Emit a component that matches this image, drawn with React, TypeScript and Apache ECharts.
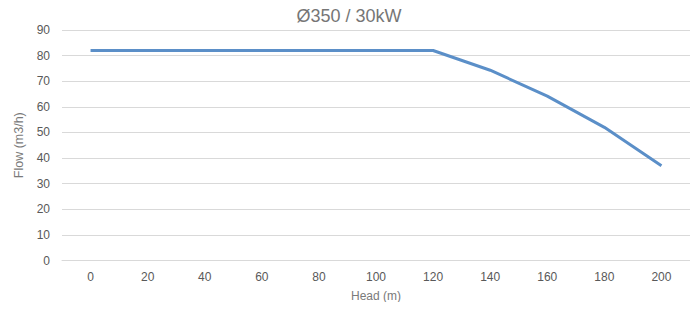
import React, { useEffect, useRef } from "react";
import * as echarts from "echarts";

const title = "Ø350 / 30kW";
const headCategories = ["0", "20", "40", "60", "80", "100", "120", "140", "160", "180", "200"];
const flowValues = [82, 82, 82, 82, 82, 82, 82, 74.3, 64.2, 52, 37];
const xName = "Head (m)";
const yName = "Flow (m3/h)";

export default function App() {
  const ref = useRef<HTMLDivElement>(null);
  useEffect(() => {
    if (!ref.current) return;
    const chart = echarts.init(ref.current, undefined, { renderer: "svg" });
    const font = "'Liberation Sans', Arial, sans-serif";
    chart.setOption({
      animation: false,
      title: {
        text: title,
        left: "center",
        top: 2,
        textStyle: { fontFamily: font, fontSize: 18, fontWeight: "lighter", color: "#767676" },
      },
      grid: { left: 62, right: 8, top: 30, bottom: 49.5, containLabel: false },
      xAxis: {
        type: "category",
        data: headCategories,
        boundaryGap: true,
        name: xName,
        nameLocation: "middle",
        nameGap: 29,
        nameTextStyle: { fontFamily: font, fontSize: 12, color: "#7a7a7a" },
        axisLine: { show: true, lineStyle: { color: "#d9d9d9", width: 1 } },
        axisTick: { show: false },
        axisLabel: { fontFamily: font, fontSize: 12, color: "#595959", margin: 10 },
        splitLine: { show: false },
      },
      yAxis: {
        type: "value",
        min: 0,
        max: 90,
        interval: 10,
        name: yName,
        nameLocation: "middle",
        nameGap: 35,
        nameRotate: 90,
        nameTextStyle: { fontFamily: font, fontSize: 12.5, color: "#7a7a7a" },
        axisLine: { show: false },
        axisTick: { show: false },
        axisLabel: { fontFamily: font, fontSize: 12, color: "#595959", margin: 12 },
        splitLine: { show: true, lineStyle: { color: "#d9d9d9", width: 1 } },
      },
      series: [
        {
          type: "line",
          data: flowValues,
          symbol: "none",
          lineStyle: { color: "#5b8fc8", width: 3 },
          itemStyle: { color: "#5b8fc8" },
        },
      ],
    });
    return () => chart.dispose();
  }, []);
  return <div ref={ref} style={{ width: 698, height: 310, margin: -8 }} />;
}
